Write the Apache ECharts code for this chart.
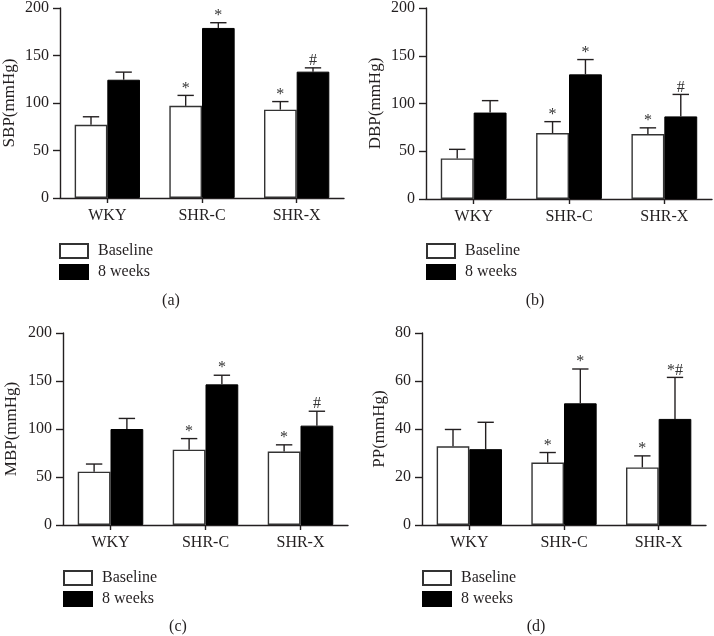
<!DOCTYPE html>
<html>
<head>
<meta charset="utf-8">
<script src="https://cdn.jsdelivr.net/npm/echarts@6/dist/echarts.min.js"></script>
<style>html,body{margin:0;padding:0;background:#fff;}#c{width:714px;height:636px;}</style>
</head>
<body>
<div id="c"></div>
<script>
const categories = ['WKY', 'SHR-C', 'SHR-X'];
const seriesNames = ['Baseline', '8 weeks'];

// (a) SBP
const sbpBaseline = [77, 97, 93];
const sbpBaselineSD = [8.5, 11, 8.5];
const sbp8w = [124.5, 179, 133];
const sbp8wSD = [8, 5.5, 4];
const sbpMarksBaseline = ['', '*', '*'];
const sbpMarks8w = ['', '*', '#'];

// (b) DBP
const dbpBaseline = [42.5, 69, 68];
const dbpBaselineSD = [9.5, 12, 6.5];
const dbp8w = [90.5, 130.5, 86.5];
const dbp8wSD = [12.5, 15.5, 23];
const dbpMarksBaseline = ['', '*', '*'];
const dbpMarks8w = ['', '*', '#'];

// (c) MBP
const mbpBaseline = [55.5, 78.5, 76.5];
const mbpBaselineSD = [8, 11.5, 7];
const mbp8w = [100, 146.5, 103.5];
const mbp8wSD = [11, 9.5, 15];
const mbpMarksBaseline = ['', '*', '*'];
const mbpMarks8w = ['', '*', '#'];

// (d) PP
const ppBaseline = [32.8, 26, 24];
const ppBaselineSD = [7, 4.2, 4.8];
const pp8w = [31.6, 50.7, 44.2];
const pp8wSD = [11.2, 14.3, 17.3];
const ppMarksBaseline = ['', '*', '*'];
const ppMarks8w = ['', '*', '*#'];

const yNames = ['SBP(mmHg)', 'DBP(mmHg)', 'MBP(mmHg)', 'PP(mmHg)'];
const yMax = [200, 200, 200, 80];
const yInterval = [50, 50, 50, 20];
const captions = ['(a)', '(b)', '(c)', '(d)'];

const FONT = "'Liberation Serif', 'Times New Roman', serif";
const INK = '#231f20';
const GAP = 0.31;

const panels = [
  { base: sbpBaseline, baseSD: sbpBaselineSD, w8: sbp8w, w8SD: sbp8wSD, mb: sbpMarksBaseline, m8: sbpMarks8w,
    grid: { left: 59, top: 6, width: 285, height: 192 }, nameGap: 42, legend: { left: 59, top: 243 }, cap: [171, 301] },
  { base: dbpBaseline, baseSD: dbpBaselineSD, w8: dbp8w, w8SD: dbp8wSD, mb: dbpMarksBaseline, m8: dbpMarks8w,
    grid: { left: 426, top: 6, width: 286, height: 193 }, nameGap: 42, legend: { left: 426, top: 243 }, cap: [535, 301] },
  { base: mbpBaseline, baseSD: mbpBaselineSD, w8: mbp8w, w8SD: mbp8wSD, mb: mbpMarksBaseline, m8: mbpMarks8w,
    grid: { left: 63, top: 333, width: 285, height: 192 }, nameGap: 43, legend: { left: 63, top: 570 }, cap: [178, 627] },
  { base: ppBaseline, baseSD: ppBaselineSD, w8: pp8w, w8SD: pp8wSD, mb: ppMarksBaseline, m8: ppMarks8w,
    grid: { left: 422, top: 333, width: 284, height: 192 }, nameGap: 34, legend: { left: 422, top: 570 }, cap: [536, 627] }
];

function errRenderer(marks, side) {
  return function (params, api) {
    const cat = api.value(0);
    const base = api.coord([cat, api.value(1)]);
    const top = api.coord([cat, api.value(2)]);
    const band = api.size([1, 0])[0];
    const bw = band * (1 - GAP) / 2;
    const x = base[0] + side * bw / 2;
    const half = bw * 0.25;
    const children = [
      { type: 'line', shape: { x1: x, y1: base[1], x2: x, y2: top[1] }, style: { stroke: INK, lineWidth: 1.4 } },
      { type: 'line', shape: { x1: x - half, y1: top[1], x2: x + half, y2: top[1] }, style: { stroke: INK, lineWidth: 1.4 } }
    ];
    const m = marks[params.dataIndex];
    if (m) {
      children.push({ type: 'text', style: { text: m, x: x, y: top[1] + 1, align: 'center', verticalAlign: 'bottom',
        font: '16px ' + FONT, fill: '#333' } });
    }
    return { type: 'group', children: children };
  };
}

const grid = [], xAxis = [], yAxis = [], series = [], legend = [], graphic = [];
panels.forEach((p, k) => {
  grid.push(p.grid);
  xAxis.push({
    type: 'category', gridIndex: k, data: categories,
    axisLine: { lineStyle: { color: INK, width: 1.4 } },
    axisTick: { show: true, alignWithLabel: true, length: 5, lineStyle: { color: INK, width: 1.4 } },
    axisLabel: { fontSize: 16, fontFamily: FONT, color: INK, margin: 10 },
    splitLine: { show: false }
  });
  yAxis.push({
    type: 'value', gridIndex: k, min: 0, max: yMax[k], interval: yInterval[k],
    name: yNames[k], nameLocation: 'middle', nameGap: p.nameGap,
    nameTextStyle: { fontSize: 17, fontFamily: FONT, color: INK },
    axisLine: { show: true, lineStyle: { color: INK, width: 1.4 } },
    axisTick: { show: true, length: 7, lineStyle: { color: INK, width: 1.4 } },
    axisLabel: { fontSize: 16, fontFamily: FONT, color: INK, margin: 11 },
    splitLine: { show: false }
  });
  series.push({
    type: 'bar', name: seriesNames[0], xAxisIndex: k, yAxisIndex: k, data: p.base,
    barGap: '0%', barCategoryGap: (GAP * 100) + '%',
    itemStyle: { color: '#ffffff', borderColor: '#333', borderWidth: 1.4 }, silent: true, animation: false
  });
  series.push({
    type: 'bar', name: seriesNames[1], xAxisIndex: k, yAxisIndex: k, data: p.w8,
    barGap: '0%', barCategoryGap: (GAP * 100) + '%',
    itemStyle: { color: '#000000', borderColor: '#000', borderWidth: 1 }, silent: true, animation: false
  });
  series.push({
    type: 'custom', xAxisIndex: k, yAxisIndex: k, z: 5, animation: false, silent: true,
    renderItem: errRenderer(p.mb, -1),
    data: categories.map((c, i) => [i, p.base[i], p.base[i] + p.baseSD[i]])
  });
  series.push({
    type: 'custom', xAxisIndex: k, yAxisIndex: k, z: 5, animation: false, silent: true,
    renderItem: errRenderer(p.m8, 1),
    data: categories.map((c, i) => [i, p.w8[i], p.w8[i] + p.w8SD[i]])
  });
  legend.push({
    data: seriesNames, orient: 'vertical', left: p.legend.left, top: p.legend.top,
    itemWidth: 28, itemHeight: 14, itemGap: 5, icon: 'rect', padding: 0, selectedMode: false,
    textStyle: { fontSize: 16, fontFamily: FONT, color: INK, padding: [0, 0, 0, 5] }
  });
  graphic.push({
    type: 'text', x: p.cap[0], y: p.cap[1],
    style: { text: captions[k], align: 'center', verticalAlign: 'middle', font: '16px ' + FONT, fill: INK }
  });
});

const chart = echarts.init(document.getElementById('c'), null, { renderer: 'canvas' });
chart.setOption({ backgroundColor: '#fff', animation: false, grid, xAxis, yAxis, series, legend, graphic });
</script>
</body>
</html>
